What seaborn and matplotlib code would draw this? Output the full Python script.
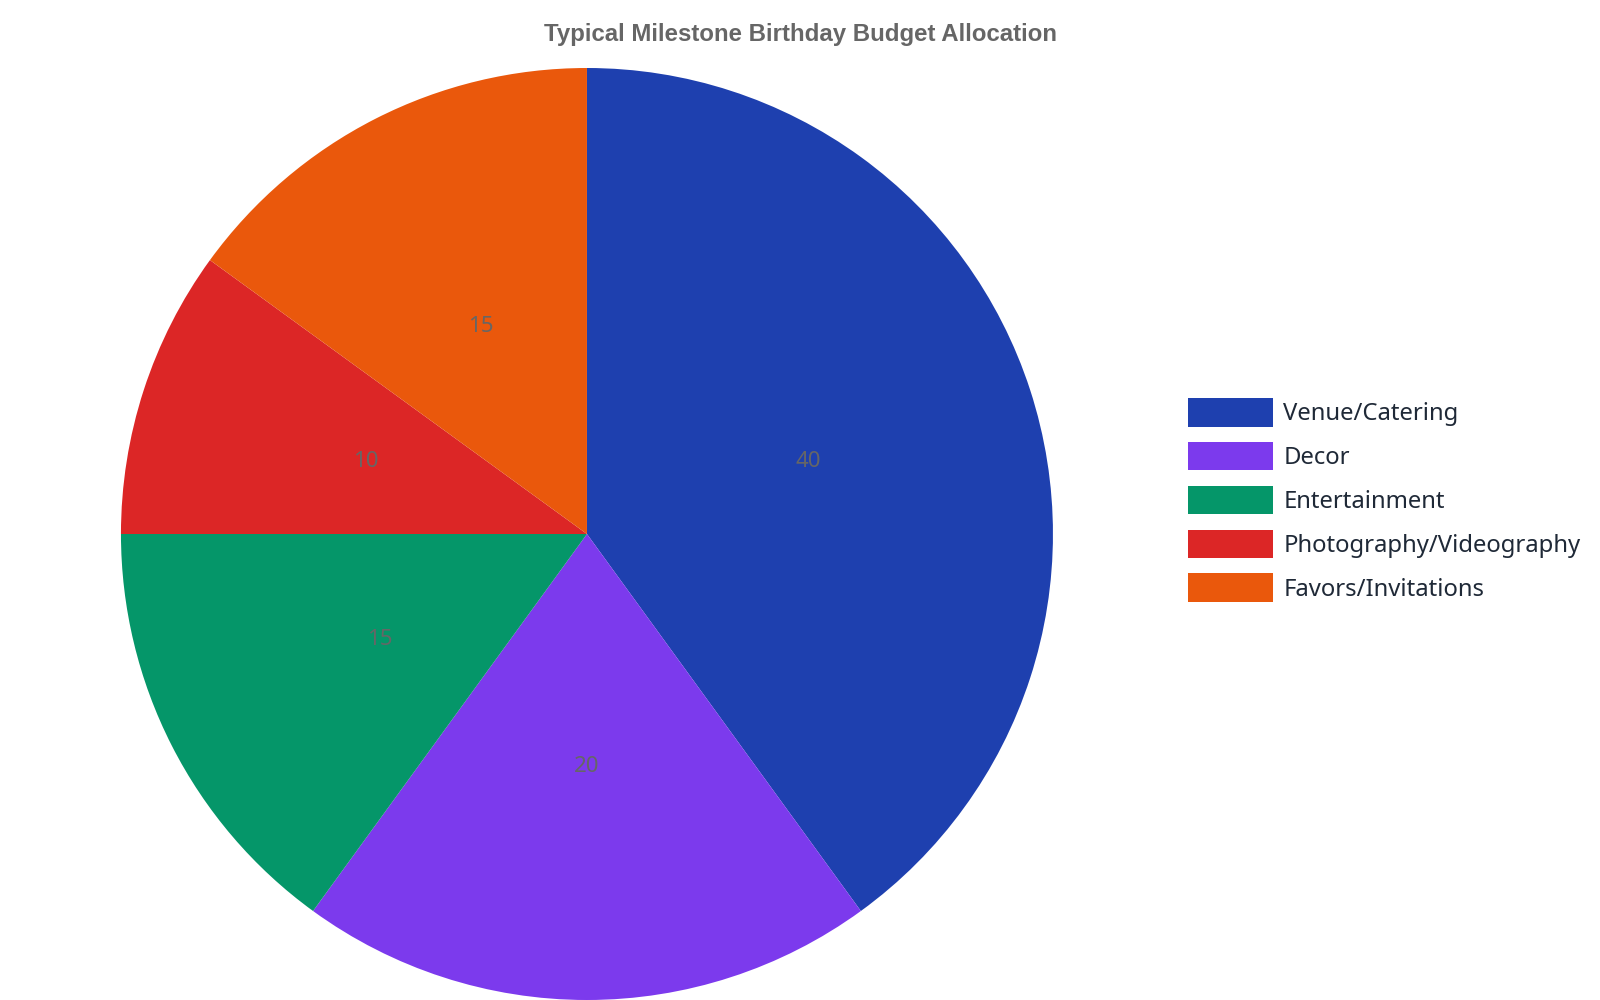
import matplotlib
matplotlib.use("Agg")
import matplotlib.pyplot as plt
import seaborn as sns
import pandas as pd

categories = ["Venue/Catering", "Decor", "Entertainment", "Photography/Videography", "Favors/Invitations"]
budget = [40, 20, 15, 10, 15]
colors = ["#1e40af", "#7c3aed", "#059669", "#dc2626", "#ea580c"]

df = pd.DataFrame({"category": categories, "budget": budget})
total = df["budget"].sum()

sns.set_theme(style="white")
plt.rcParams['font.family'] = ['Noto Sans', 'DejaVu Sans']

fig = plt.figure(figsize=(16, 10), dpi=100)
# square box for the pie, centred near (587, 536) px
ax = fig.add_axes([0.0756, 0.0, 0.5825, 0.932])

wedges, texts, autotexts = ax.pie(
    df["budget"], colors=sns.color_palette(colors), startangle=90, counterclock=False,
    autopct=lambda p: f"{p * total / 100:.0f}", pctdistance=0.5,
    wedgeprops={"linewidth": 0}, textprops={"fontsize": 16, "color": "#666666"})
ax.set_xlim(-1, 1)
ax.set_ylim(-1, 1)

fig.text(0.5, 0.966, "Typical Milestone Birthday Budget Allocation", ha="center", va="center",
         fontsize=17.3, fontweight="bold", color="#666666", family=["Liberation Sans", "DejaVu Sans"])

leg = fig.legend(wedges, df["category"], loc="center left", bbox_to_anchor=(0.729, 0.50),
                 frameon=False, fontsize=17.2, handlelength=3.55, handleheight=1.46,
                 handletextpad=0.45, labelspacing=0.64, labelcolor="#1f2937")

fig.savefig("out.png", dpi=100, facecolor="white")
